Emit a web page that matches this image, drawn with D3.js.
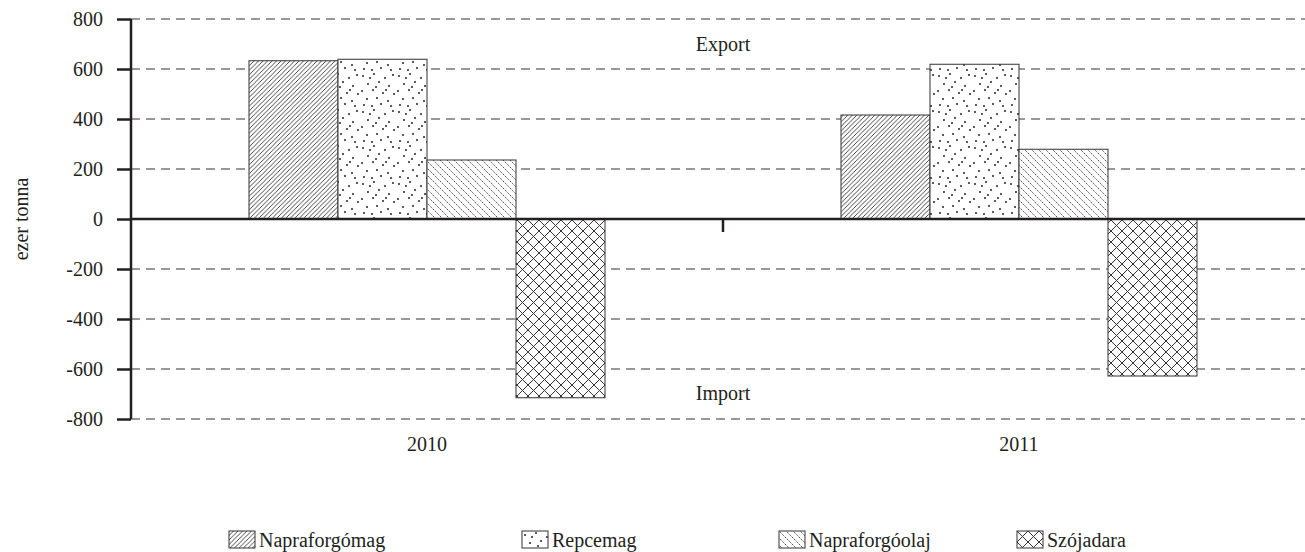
<!DOCTYPE html>
<html>
<head>
<meta charset="utf-8">
<script src="https://cdn.jsdelivr.net/npm/d3@7"></script>
<style>
  body { margin: 0; background: #fff; }
  svg text { font-family: 'Liberation Serif', 'Times New Roman', serif !important; fill: #231f20; }
</style>
</head>
<body>
<div id="chart"></div>
<script>
var years = ["2010", "2011"];
var series = ["Napraforgómag", "Repcemag", "Napraforgóolaj", "Szójadara"];
var napraforgomag = [633, 416];
var repcemag = [639, 619];
var napraforgoolaj = [236, 279];
var szojadara = [-715, -628];
var yTicks = [800, 600, 400, 200, 0, -200, -400, -600, -800];

var values = [napraforgomag, repcemag, napraforgoolaj, szojadara];
var data = [];
years.forEach((yr, i) => {
  series.forEach((s, j) => data.push({year: yr, series: s, value: values[j][i], idx: j}));
});

var W = 1305, H = 552;
var ink = "#333";
var fs = 20;

var svg = d3.select("#chart").append("svg")
    .attr("width", W)
    .attr("height", H);

// patterns, each with a white ground so the grid stays hidden
var defs = svg.append("defs");
function pattern(id, size) {
  var p = defs.append("pattern").attr("id", id)
      .attr("patternUnits", "userSpaceOnUse").attr("width", size).attr("height", size);
  p.append("rect").attr("width", size).attr("height", size).attr("fill", "#fff");
  return p;
}

var p0 = pattern("pat0", 4.5);
p0.append("path").attr("d", "M-1,5.5 L5.5,-1 M-1,1 L1,-1 M3.5,5.5 L5.5,3.5")
    .attr("stroke", ink).attr("stroke-width", 0.9);

var p1 = pattern("pat1", 36);
var dots = [[3,4],[14,2],[25,6],[33,3],[8,12],[19,10],[29,14],[2,19],[13,18],[23,21],[34,22],
            [7,27],[17,26],[28,29],[4,33],[12,34],[21,32],[31,34],[10,6],[26,18],[16,15]];
p1.selectAll("circle").data(dots).enter().append("circle")
    .attr("cx", d => d[0]).attr("cy", d => d[1])
    .attr("r", 1).attr("fill", "#222");

var p2 = pattern("pat2", 7);
p2.append("path").attr("d", "M-1,-1 L8,8 M-1,6 L1,8 M6,-1 L8,1")
    .attr("stroke", ink).attr("stroke-width", 0.9).attr("stroke-dasharray", "1.5,1");

var p3 = pattern("pat3", 11);
p3.append("path").attr("d", "M-1,-1 L12,12 M-1,12 L12,-1")
    .attr("stroke", ink).attr("stroke-width", 1);

var fills = ["url(#pat0)", "url(#pat1)", "url(#pat2)", "url(#pat3)"];

// scales
var x0 = d3.scaleBand().domain(years).range([131, 131 + 2 * 592]);
var x1 = d3.scaleBand().domain(series).range([118, 474]);
var y = d3.scaleLinear().domain([-800, 800]).range([419, 19]);

// grid
svg.append("g").selectAll("line")
    .data(yTicks.filter(d => d !== 0))
    .enter().append("line")
    .attr("x1", 131).attr("x2", W)
    .attr("y1", d => y(d)).attr("y2", d => y(d))
    .attr("stroke", ink).attr("stroke-width", 1.2)
    .attr("stroke-dasharray", "9,6");

// bars
svg.append("g").selectAll("rect")
    .data(data)
    .enter().append("rect")
    .attr("x", d => x0(d.year) + x1(d.series))
    .attr("width", x1.bandwidth())
    .attr("y", d => y(Math.max(0, d.value)))
    .attr("height", d => Math.abs(y(d.value) - y(0)))
    .attr("fill", d => fills[d.idx])
    .attr("stroke", ink).attr("stroke-width", 1);

// y axis
var yAxis = svg.append("g")
    .attr("transform", "translate(131,0)")
    .call(d3.axisLeft(y).tickValues(yTicks).tickSize(14).tickPadding(14).tickFormat(d => String(d)));
yAxis.attr("font-size", fs);
yAxis.select(".domain").attr("stroke", "#231f20").attr("stroke-width", 2.5)
    .attr("d", "M0," + y(800) + "V" + y(-800));
yAxis.selectAll(".tick line").attr("stroke", "#231f20").attr("stroke-width", 2.5);
yAxis.selectAll(".tick text").attr("fill", "#231f20");

// zero axis with category ticks
var xAxis = svg.append("g")
    .attr("transform", "translate(0," + y(0) + ")")
    .call(d3.axisBottom(x0).tickValues([]).tickSizeOuter(0));
xAxis.select(".domain").attr("stroke", "#231f20").attr("stroke-width", 2.5)
    .attr("d", "M131,0H" + W);
xAxis.selectAll("line.cat").data(years.slice(1))
    .enter().append("line").attr("class", "cat")
    .attr("x1", d => x0(d)).attr("x2", d => x0(d))
    .attr("y1", 0).attr("y2", 13)
    .attr("stroke", "#231f20").attr("stroke-width", 2.5);

// category labels
svg.append("g").selectAll("text")
    .data(years)
    .enter().append("text")
    .attr("x", d => x0(d) + x0.bandwidth() / 2)
    .attr("y", 451)
    .attr("text-anchor", "middle")
    .attr("font-size", fs)
    .text(d => d);

// Export / Import
svg.append("text").attr("x", x0("2011")).attr("y", 51)
    .attr("text-anchor", "middle").attr("font-size", fs).text("Export");
svg.append("text").attr("x", x0("2011")).attr("y", 400)
    .attr("text-anchor", "middle").attr("font-size", fs).text("Import");

// y label
svg.append("text")
    .attr("transform", "translate(28," + y(0) + ") rotate(-90)")
    .attr("text-anchor", "middle")
    .attr("font-size", fs)
    .text("ezer tonna");

// legend
var legendX = [229, 522, 779, 1017];
var lg = svg.append("g").selectAll("g")
    .data(series)
    .enter().append("g")
    .attr("transform", (d, i) => "translate(" + legendX[i] + ",531)");
lg.append("rect")
    .attr("width", 26).attr("height", 17)
    .attr("fill", (d, i) => fills[i])
    .attr("stroke", ink).attr("stroke-width", 1);
lg.append("text")
    .attr("x", 30).attr("y", 16)
    .attr("font-size", fs)
    .text(d => d);
</script>
</body>
</html>
